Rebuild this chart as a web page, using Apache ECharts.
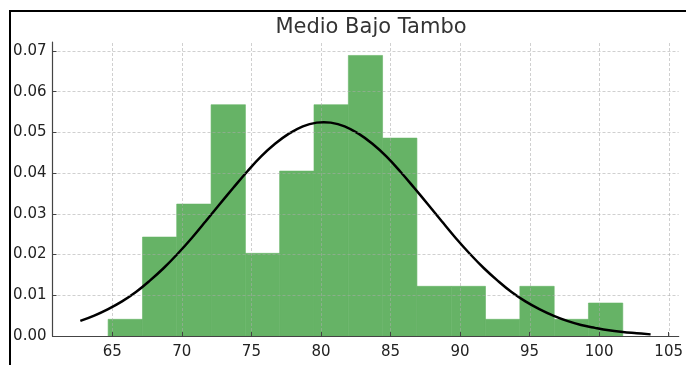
<!DOCTYPE html>
<html>
<head>
<meta charset="utf-8">
<style>
    html, body { margin: 0; padding: 0; background: #fff; overflow: hidden; }
    /* black frame left/top, like the cropped figure */
    #frame {
        position: absolute; left: 9px; top: 10px; width: 700px; height: 400px;
        border-left: 2px solid #000; border-top: 2px solid #000;
    }
    #chart { position: absolute; left: 0; top: 0; width: 686px; height: 365px; }
</style>
<script src="https://cdn.jsdelivr.net/npm/echarts@6/dist/echarts.min.js"></script>
</head>
<body>
<div id="frame"></div>
<div id="chart"></div>
<script>
// bin edges of the histogram (16 edges -> 15 bars)
const binEdges = [64.70, 67.17, 69.63, 72.10, 74.57, 77.03, 79.50, 81.97,
    84.43, 86.90, 89.37, 91.83, 94.30, 96.77, 99.23, 101.70]
// density of each bar
const binDensity = [0.0041, 0.0243, 0.0324, 0.0568, 0.0203, 0.0405, 0.0568,
    0.0689, 0.0486, 0.0122, 0.0122, 0.0041, 0.0122, 0.0041, 0.0081]
// fitted curve
const curveX = [62.7, 63.7, 64.7, 65.7, 66.7, 67.7, 68.7, 69.7, 70.7, 71.7,
    72.7, 73.7, 74.7, 75.7, 76.7, 77.7, 78.7, 79.7, 80.2, 80.7, 81.7, 82.7, 83.7,
    84.7, 85.7, 86.7, 87.7, 88.7, 89.7, 90.7, 91.7, 92.7, 93.7, 94.7, 95.7,
    96.7, 97.7, 98.7, 99.7, 100.7, 101.7, 102.7, 103.7]
const curveY = [0.0037, 0.0050, 0.0066, 0.0085, 0.0108, 0.0136, 0.0167, 0.0202,
    0.0240, 0.0281, 0.0323, 0.0364, 0.0404, 0.0441, 0.0472, 0.0497, 0.0515,
    0.0524, 0.0525, 0.0524, 0.0515, 0.0497, 0.0472, 0.0441, 0.0404, 0.0364, 0.0323,
    0.0281, 0.0240, 0.0202, 0.0167, 0.0136, 0.0108, 0.0085, 0.0066, 0.0050,
    0.0037, 0.0027, 0.0020, 0.0014, 0.0010, 0.0007, 0.0004]
const xTicks = [65, 70, 75, 80, 85, 90, 95, 100, 105]
const chartTitle = 'Medio Bajo Tambo'

const font = 'DejaVu Sans'
const textColor = '#222'
const axisColor = '#444'
// grid sits above the bars, light and a bit see-through
const gridColor = 'rgba(170,170,170,0.55)'
const yMax = 0.0722

let bars = []
for (let i = 0; i < binDensity.length; i++) {
    bars.push([binEdges[i], binEdges[i + 1], binDensity[i]])
}
let curve = curveX.map((x, i) => [x, curveY[i]])

let myChart = echarts.init(document.getElementById('chart'))
myChart.setOption({
    animation: false,
    title: {
        text: chartTitle,
        left: 366,
        textAlign: 'center',
        top: 12,
        textStyle: { fontFamily: font, fontSize: 21, fontWeight: 'normal', color: '#333' }
    },
    grid: { left: 52.5, right: 6, top: 42, bottom: 29 },
    xAxis: {
        type: 'value',
        min: 60.7,
        max: 105.72,
        z: 5,
        axisLine: { show: true, lineStyle: { color: axisColor, width: 1.2 } },
        axisTick: { show: true, inside: true, length: 4, customValues: xTicks, lineStyle: { color: axisColor } },
        axisLabel: {
            customValues: xTicks,
            margin: 9,
            fontFamily: font,
            fontSize: 15,
            color: textColor
        },
        splitLine: { show: false }
    },
    yAxis: {
        type: 'value',
        min: 0,
        max: yMax,
        interval: 0.01,
        z: 5,
        axisLine: { show: true, lineStyle: { color: axisColor, width: 1.2 } },
        axisTick: { show: true, inside: true, length: 4, lineStyle: { color: axisColor } },
        axisLabel: {
            showMaxLabel: false,
            margin: 6,
            fontFamily: font,
            fontSize: 15,
            color: textColor,
            formatter: v => v.toFixed(2)
        },
        splitLine: {
            show: true,
            showMinLine: false,
            showMaxLine: false,
            lineStyle: { color: gridColor, type: [3, 2], width: 1 }
        }
    },
    series: [
        {
            type: 'custom',
            name: 'hist',
            z: 2,
            renderItem: function (params, api) {
                let p0 = api.coord([api.value(0), api.value(2)])
                let p1 = api.coord([api.value(1), 0])
                return {
                    type: 'rect',
                    shape: { x: p0[0], y: p0[1], width: p1[0] - p0[0], height: p1[1] - p0[1] },
                    style: { fill: 'rgb(102,179,102)', stroke: 'rgb(102,179,102)', lineWidth: 0.6 }
                }
            },
            encode: { x: [0, 1], y: 2 },
            data: bars
        },
        {
            // vertical grid lines at the x ticks
            type: 'custom',
            name: 'xgrid',
            z: 3,
            silent: true,
            renderItem: function (params, api) {
                let a = api.coord([api.value(0), 0])
                let b = api.coord([api.value(0), yMax])
                return {
                    type: 'line',
                    shape: { x1: Math.round(a[0]) + 0.5, y1: a[1], x2: Math.round(a[0]) + 0.5, y2: b[1] },
                    style: { stroke: gridColor, lineWidth: 1, lineDash: [3, 2] }
                }
            },
            encode: { x: 0 },
            data: xTicks.map(v => [v])
        },
        {
            type: 'line',
            name: 'curve',
            z: 4,
            smooth: 0.4,
            symbol: 'none',
            lineStyle: { color: '#000', width: 2.5 },
            data: curve
        }
    ]
})
</script>
</body>
</html>
